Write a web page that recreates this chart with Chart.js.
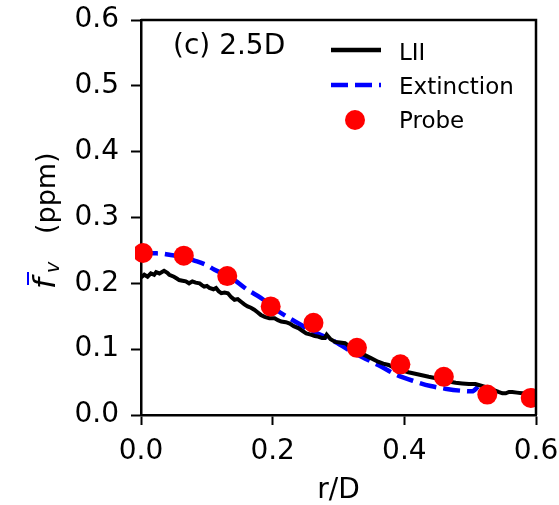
<!DOCTYPE html>
<html>
<head>
<meta charset="utf-8">
<script src="https://cdn.jsdelivr.net/npm/chart.js@4.4.1/dist/chart.umd.min.js"></script>
<style>
  html, body { margin: 0; padding: 0; background: #fff; }
  #wrap { width: 559px; height: 505px; }
</style>
</head>
<body>
<div id="wrap"><canvas id="profile"></canvas></div>
<script>
// radial soot volume fraction profile at 2.5D
var liiR = [0.000, 0.005, 0.010, 0.015, 0.020, 0.023, 0.028, 0.035, 0.040, 0.043,
    0.050, 0.055, 0.058, 0.063, 0.068, 0.073, 0.078, 0.083, 0.089, 0.093,
    0.096, 0.100, 0.104, 0.110, 0.114, 0.118, 0.122, 0.127, 0.132, 0.137,
    0.142, 0.147, 0.152, 0.157, 0.162, 0.167, 0.172, 0.177, 0.182, 0.188,
    0.195, 0.203, 0.208, 0.213, 0.220, 0.226, 0.232, 0.239, 0.245, 0.251,
    0.258, 0.264, 0.269, 0.275, 0.279, 0.282, 0.288, 0.295, 0.302, 0.310,
    0.317, 0.325, 0.332, 0.340, 0.350, 0.360, 0.368, 0.376, 0.386, 0.396,
    0.406, 0.420, 0.437, 0.452, 0.467, 0.478, 0.488, 0.498, 0.508, 0.518,
    0.528, 0.536, 0.543, 0.549, 0.554, 0.559, 0.564, 0.571, 0.579, 0.589, 0.599];
var liiFv = [0.209, 0.213, 0.210, 0.215, 0.213, 0.217, 0.215, 0.219, 0.216, 0.213,
    0.210, 0.207, 0.205, 0.204, 0.203, 0.200, 0.203, 0.201, 0.200, 0.197,
    0.195, 0.196, 0.193, 0.191, 0.193, 0.188, 0.185, 0.186, 0.185, 0.179,
    0.175, 0.176, 0.172, 0.168, 0.165, 0.163, 0.160, 0.156, 0.152, 0.149,
    0.147, 0.147, 0.144, 0.142, 0.141, 0.139, 0.135, 0.132, 0.128, 0.124,
    0.122, 0.120, 0.119, 0.117, 0.117, 0.122, 0.115, 0.111, 0.110, 0.109,
    0.104, 0.099, 0.095, 0.091, 0.086, 0.081, 0.078, 0.076, 0.071, 0.068,
    0.065, 0.062, 0.058, 0.055, 0.051, 0.049, 0.048, 0.047, 0.047, 0.044,
    0.041, 0.038, 0.035, 0.033, 0.033, 0.035, 0.035, 0.034, 0.033, 0.033, 0.033];

var extR = [0.000, 0.015, 0.033, 0.045, 0.065, 0.080, 0.099, 0.111, 0.135, 0.162,
    0.182, 0.208, 0.234, 0.257, 0.290, 0.320, 0.340, 0.366, 0.386, 0.416,
    0.440, 0.462, 0.485, 0.503, 0.512];
var extFv = [0.248, 0.246, 0.245, 0.243, 0.240, 0.235, 0.228, 0.221, 0.210, 0.190,
    0.178, 0.158, 0.142, 0.129, 0.114, 0.096, 0.086, 0.073, 0.062, 0.051,
    0.044, 0.040, 0.037, 0.036, 0.043];

var probeR = [0.003, 0.065, 0.131, 0.197, 0.262, 0.328, 0.394, 0.460, 0.526, 0.592];
var probeFv = [0.246, 0.242, 0.211, 0.165, 0.140, 0.102, 0.077, 0.058, 0.031, 0.026];

var xTicks = [0.0, 0.2, 0.4, 0.6];
var yTicks = [0.0, 0.1, 0.2, 0.3, 0.4, 0.5, 0.6];

var FONT = "'DejaVu Sans', sans-serif";

function toPoints(xs, ys) {
    return xs.map(function (x, i) { return { x: x, y: ys[i] }; });
}

// box on top/right, panel tag, legend and y label
var extras = {
    id: 'extras',
    afterDraw: function (chart) {
        var c = chart.ctx;
        var a = chart.chartArea;
        c.save();

        c.strokeStyle = '#000';
        c.lineWidth = 2.5;
        c.beginPath();
        c.moveTo(a.left, a.top);
        c.lineTo(a.right, a.top);
        c.lineTo(a.right, a.bottom);
        c.stroke();

        c.fillStyle = '#000';
        c.textBaseline = 'alphabetic';
        c.textAlign = 'left';
        c.font = '28px ' + FONT;
        c.fillText('(c) 2.5D', 173, 54);

        // legend
        c.font = '23px ' + FONT;
        c.lineWidth = 4.5;
        c.strokeStyle = '#000';
        c.beginPath();
        c.moveTo(331, 50);
        c.lineTo(381, 50);
        c.stroke();
        c.fillText('LII', 399, 60);

        c.strokeStyle = '#0000ff';
        c.setLineDash([17, 7]);
        c.beginPath();
        c.moveTo(331, 85);
        c.lineTo(381, 85);
        c.stroke();
        c.setLineDash([]);
        c.fillText('Extinction', 399, 94);

        c.fillStyle = '#ff0000';
        c.beginPath();
        c.arc(355, 120, 10, 0, Math.PI * 2);
        c.fill();
        c.fillStyle = '#000';
        c.fillText('Probe', 399, 128);

        // y label: f-bar sub v (ppm), reads bottom to top
        c.translate(55, 219);
        c.rotate(-Math.PI / 2);
        c.font = 'italic 31px ' + FONT;
        c.fillText('f', -70, 0);
        c.lineWidth = 2;
        c.beginPath();
        c.moveTo(-66, -27);
        c.lineTo(-53, -27);
        c.stroke();
        c.font = 'italic 19px ' + FONT;
        c.fillText('v', -54, 4);
        c.font = '27px ' + FONT;
        c.fillText('(ppm)', -15, 0);

        c.restore();
    }
};

new Chart(document.getElementById('profile'), {
    type: 'scatter',
    data: {
        datasets: [
            {
                label: 'Probe',
                data: toPoints(probeR, probeFv),
                backgroundColor: '#ff0000',
                borderWidth: 0,
                pointRadius: 10,
                pointHoverRadius: 10,
                clip: { left: 6, top: 12, right: 0, bottom: 12 },
                order: 1
            },
            {
                label: 'LII',
                type: 'line',
                data: toPoints(liiR, liiFv),
                borderColor: '#000000',
                borderWidth: 4,
                pointRadius: 0,
                fill: false,
                tension: 0,
                order: 2
            },
            {
                label: 'Extinction',
                type: 'line',
                data: toPoints(extR, extFv),
                borderColor: '#0000ff',
                borderWidth: 4.5,
                borderDash: [17, 7],
                pointRadius: 0,
                fill: false,
                cubicInterpolationMode: 'monotone',
                order: 3
            }
        ]
    },
    options: {
        responsive: true,
        maintainAspectRatio: false,
        animation: false,
        layout: { padding: { left: 0, top: 20, right: 23, bottom: 0 } },
        plugins: {
            legend: { display: false },
            tooltip: { enabled: false }
        },
        scales: {
            x: {
                type: 'linear',
                min: 0,
                max: 0.6,
                afterFit: function (s) {
                    s.height = 90;
                    s.paddingLeft = 0;
                    s.paddingRight = 0;
                },
                afterBuildTicks: function (s) { s.ticks = xTicks.map(function (v) { return { value: v }; }); },
                ticks: {
                    color: '#000',
                    font: { family: FONT, size: 28 },
                    padding: 10,
                    maxRotation: 0,
                    callback: function (v) { return v.toFixed(1); }
                },
                grid: { display: true, drawOnChartArea: false, tickLength: 10, tickWidth: 2, tickColor: '#000' },
                border: { display: true, color: '#000', width: 2.5 },
                title: {
                    display: true,
                    text: 'r/D',
                    color: '#000',
                    font: { family: FONT, size: 28, lineHeight: 1.0 },
                    padding: { top: 0, bottom: 0 }
                }
            },
            y: {
                type: 'linear',
                min: 0,
                max: 0.6,
                afterFit: function (s) {
                    s.width = 141;
                    s.paddingTop = 0;
                    s.paddingBottom = 0;
                },
                afterBuildTicks: function (s) { s.ticks = yTicks.map(function (v) { return { value: v }; }); },
                ticks: {
                    color: '#000',
                    font: { family: FONT, size: 28 },
                    padding: 12,
                    callback: function (v) { return v.toFixed(1); }
                },
                grid: { display: true, drawOnChartArea: false, tickLength: 10, tickWidth: 2, tickColor: '#000' },
                border: { display: true, color: '#000', width: 2.5 }
            }
        }
    },
    plugins: [extras]
});
</script>
</body>
</html>
